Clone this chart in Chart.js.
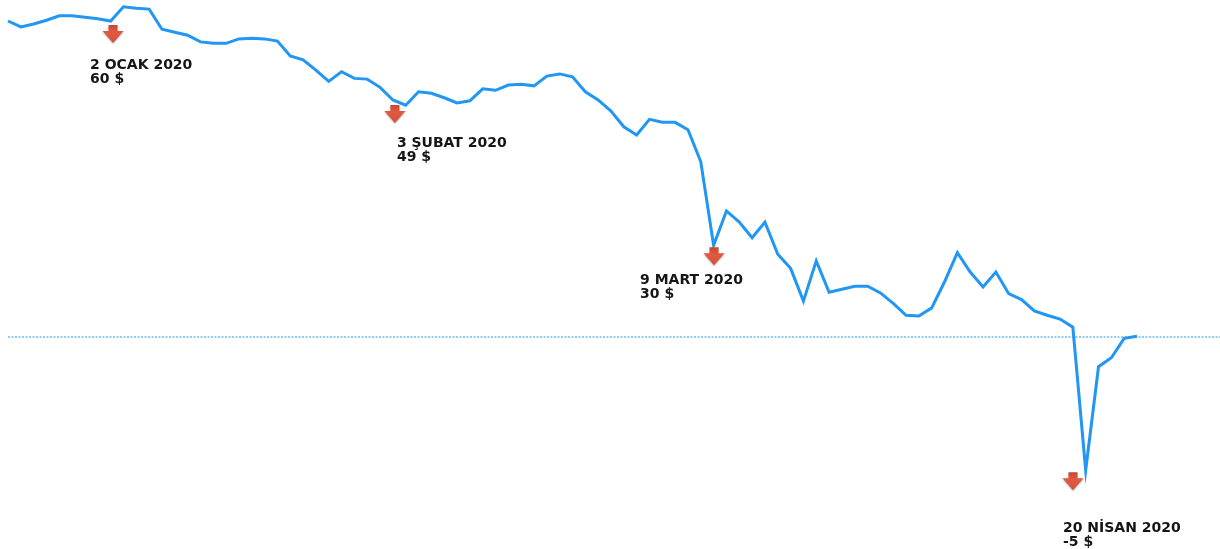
<!DOCTYPE html>
<html>
<head>
<meta charset="utf-8">
<script src="https://cdn.jsdelivr.net/npm/chart.js@4/dist/chart.umd.min.js"></script>
<style>
  html, body { margin: 0; padding: 0; background: #ffffff; }
  #wrap { width: 1220px; height: 549px; position: relative; }
</style>
</head>
<body>
<div id="wrap"><canvas id="c"></canvas></div>
<script>
// ---- DATA ----
const categories = [
  '2019-12-19','2019-12-20','2019-12-23','2019-12-24','2019-12-26','2019-12-27','2019-12-30','2019-12-31',
  '2020-01-02','2020-01-03','2020-01-06','2020-01-07','2020-01-08','2020-01-09','2020-01-10',
  '2020-01-13','2020-01-14','2020-01-15','2020-01-16','2020-01-17',
  '2020-01-20','2020-01-21','2020-01-22','2020-01-23','2020-01-24',
  '2020-01-27','2020-01-28','2020-01-29','2020-01-30','2020-01-31',
  '2020-02-03','2020-02-04','2020-02-05','2020-02-06','2020-02-07',
  '2020-02-10','2020-02-11','2020-02-12','2020-02-13','2020-02-14',
  '2020-02-17','2020-02-18','2020-02-19','2020-02-20','2020-02-21',
  '2020-02-24','2020-02-25','2020-02-26','2020-02-27','2020-02-28',
  '2020-03-02','2020-03-03','2020-03-04','2020-03-05','2020-03-06',
  '2020-03-09','2020-03-10','2020-03-11','2020-03-12','2020-03-13',
  '2020-03-16','2020-03-17','2020-03-18','2020-03-19','2020-03-20',
  '2020-03-23','2020-03-24','2020-03-25','2020-03-26','2020-03-27',
  '2020-03-30','2020-03-31','2020-04-01','2020-04-02','2020-04-03',
  '2020-04-06','2020-04-07','2020-04-08','2020-04-09',
  '2020-04-13','2020-04-14','2020-04-15','2020-04-16','2020-04-17',
  '2020-04-20','2020-04-21','2020-04-22','2020-04-23','2020-04-24'
];

const prices = [
  60.0, 59.2, 59.6, 60.1, 60.7, 60.7, 60.5, 60.3,
  60.0, 61.9, 61.7, 61.6, 58.9, 58.5, 58.1,
  57.2, 57.0, 57.0, 57.6, 57.7,
  57.6, 57.3, 55.3, 54.8, 53.4,
  51.9, 53.2, 52.3, 52.2, 51.1,
  49.4, 48.7, 50.5, 50.3, 49.7,
  49.0, 49.3, 50.9, 50.7, 51.4,
  51.5, 51.3, 52.6, 52.9, 52.5,
  50.5, 49.4, 47.9, 45.8, 44.7,
  46.8, 46.4, 46.4, 45.4, 41.1,
  29.9, 34.5, 33.0, 30.9, 33.0,
  28.7, 26.8, 22.4, 27.8, 23.6,
  24.0, 24.4, 24.4, 23.5, 22.1,
  20.5, 20.4, 21.5, 25.0, 28.9,
  26.3, 24.3, 26.3, 23.4,
  22.6, 21.1, 20.5, 20.0, 18.9,
  -0.3, 13.6, 14.8, 17.4, 17.7
];

const referenceLevel = 17.6;

const annotIndex = [8, 30, 55, 84];
const annotDate  = ['2 OCAK 2020', '3 ŞUBAT 2020', '9 MART 2020', '20 NİSAN 2020'];
const annotPrice = ['60 $', '49 $', '30 $', '-5 $'];

// ---- STYLE / LAYOUT (pixel offsets for annotation marks) ----
const LINE_COLOR = '#2196f3';
const REF_COLOR = '#2196f3';
const TEXT_COLOR = '#151515';
const arrowDx   = [2.4, 2, 0.4, -12.7];
const arrowTipDy = [22, 23, 20, 20];
const labelDx   = [-23, 2, -74, -10];
const labelDy   = [26, 24, 19, 42];

const refLinePlugin = {
  id: 'refLine',
  beforeDatasetsDraw(chart) {
    const { ctx, chartArea, scales } = chart;
    const y = Math.round(scales.y.getPixelForValue(referenceLevel));
    ctx.save();
    ctx.strokeStyle = REF_COLOR;
    ctx.lineWidth = 1.2;
    ctx.setLineDash([2, 1.5]);
    ctx.beginPath();
    ctx.moveTo(chartArea.left, y);
    ctx.lineTo(chart.width, y);
    ctx.stroke();
    ctx.restore();
  }
};

const annotPlugin = {
  id: 'annots',
  afterDatasetsDraw(chart) {
    const { ctx, scales } = chart;
    annotIndex.forEach((idx, i) => {
      const px = scales.x.getPixelForValue(idx) + arrowDx[i];
      const tip = scales.y.getPixelForValue(prices[idx]) + arrowTipDy[i];
      const h = 18, stemH = 6, stemW = 4.5, headW = 10.5;
      const top = tip - h;
      ctx.save();
      ctx.shadowColor = 'rgba(0,0,0,0.3)';
      ctx.shadowBlur = 2;
      ctx.shadowOffsetY = 1;
      const g = ctx.createLinearGradient(0, top, 0, tip);
      g.addColorStop(0, '#c94630');
      g.addColorStop(0.4, '#e05a40');
      g.addColorStop(1, '#d4513a');
      ctx.fillStyle = g;
      ctx.beginPath();
      ctx.moveTo(px - stemW, top);
      ctx.lineTo(px + stemW, top);
      ctx.lineTo(px + stemW, top + stemH);
      ctx.lineTo(px + headW, top + stemH);
      ctx.lineTo(px, tip);
      ctx.lineTo(px - headW, top + stemH);
      ctx.lineTo(px - stemW, top + stemH);
      ctx.closePath();
      ctx.fill();
      ctx.restore();

      ctx.save();
      ctx.fillStyle = TEXT_COLOR;
      ctx.font = 'bold 14px "DejaVu Sans", Verdana, sans-serif';
      ctx.textBaseline = 'alphabetic';
      ctx.textAlign = 'left';
      const lx = px + labelDx[i];
      const ly = tip + labelDy[i];
      ctx.fillText(annotDate[i], lx, ly);
      ctx.fillText(annotPrice[i], lx, ly + 14);
      ctx.restore();
    });
  }
};

new Chart(document.getElementById('c'), {
  type: 'line',
  data: {
    labels: categories,
    datasets: [{
      data: prices,
      borderColor: LINE_COLOR,
      borderWidth: 3,
      pointRadius: 0,
      tension: 0,
      fill: false,
      clip: false
    }]
  },
  options: {
    responsive: true,
    maintainAspectRatio: false,
    animation: false,
    layout: { padding: { left: 8, right: 83, top: 0, bottom: 0 } },
    plugins: { legend: { display: false }, tooltip: { enabled: false } },
    scales: {
      x: { display: false, offset: false },
      y: { display: false, min: -10.87, max: 62.82 }
    }
  },
  plugins: [refLinePlugin, annotPlugin]
});
</script>
</body>
</html>
